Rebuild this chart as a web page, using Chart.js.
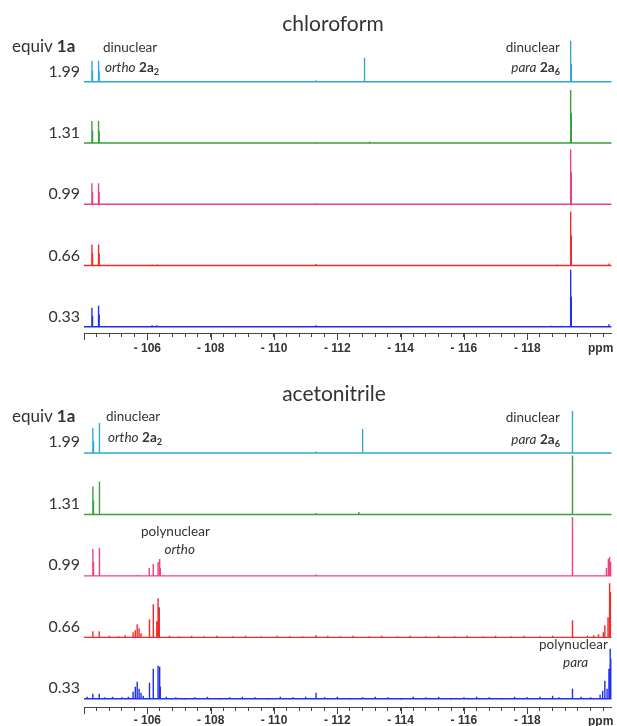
<!DOCTYPE html>
<html>
<head>
<meta charset="utf-8">
<script src="https://cdn.jsdelivr.net/npm/chart.js@4"></script>
<style>
    body { margin: 0; background: #fff; width: 617px; height: 726px; position: relative; overflow: hidden; font-family: Lato, 'Open Sans', sans-serif; color: #333; }
    canvas { position: absolute; left: 0; }
    .t { position: absolute; white-space: nowrap; line-height: 1; }
    .title { font-size: 21px; transform: translateX(-50%); }
    .eq { font-size: 17px; }
    .num { font-size: 16px; width: 80px; text-align: right; left: 0; }
    .lab { font-size: 13.5px; }
    .r { text-align: right; }
    .ppm { font-family: 'Liberation Sans', Arial, sans-serif; font-weight: bold; font-size: 12px; }
    sub { font-size: 68%; vertical-align: -0.3em; line-height: 0; }
</style>
</head>
<body>
<canvas id="chloroform" width="617" height="362" style="top:0"></canvas>
<canvas id="acetonitrile" width="617" height="361" style="top:365px"></canvas>

<!-- chloroform panel text -->
<div class="t title" style="left:333px;top:12px">chloroform</div>
<div class="t eq" style="left:12px;top:37px">equiv <b>1a</b></div>
<div class="t num" style="top:63px">1.99</div>
<div class="t num" style="top:124px">1.31</div>
<div class="t num" style="top:185px">0.99</div>
<div class="t num" style="top:247px">0.66</div>
<div class="t num" style="top:308px">0.33</div>
<div class="t lab" style="left:103px;top:41px">dinuclear</div>
<div class="t lab" style="left:105px;top:61px"><i>ortho</i> <b>2a<sub>2</sub></b></div>
<div class="t lab r" style="right:57px;top:41px">dinuclear</div>
<div class="t lab r" style="right:57px;top:61px"><i>para</i> <b>2a<sub>6</sub></b></div>
<div class="t ppm" style="left:588px;top:342px">ppm</div>

<!-- acetonitrile panel text -->
<div class="t title" style="left:334px;top:382px">acetonitrile</div>
<div class="t eq" style="left:12px;top:407px">equiv <b>1a</b></div>
<div class="t num" style="top:433px">1.99</div>
<div class="t num" style="top:495px">1.31</div>
<div class="t num" style="top:556px">0.99</div>
<div class="t num" style="top:618px">0.66</div>
<div class="t num" style="top:679px">0.33</div>
<div class="t lab" style="left:106px;top:410px">dinuclear</div>
<div class="t lab" style="left:108px;top:431px"><i>ortho</i> <b>2a<sub>2</sub></b></div>
<div class="t lab r" style="right:57px;top:411px">dinuclear</div>
<div class="t lab r" style="right:57px;top:433px"><i>para</i> <b>2a<sub>6</sub></b></div>
<div class="t lab" style="left:141px;top:525px">polynuclear</div>
<div class="t lab r" style="right:422px;top:543px"><i>ortho</i></div>
<div class="t lab" style="left:539px;top:638px">polynuclear</div>
<div class="t lab" style="left:563px;top:656px"><i>para</i></div>
<div class="t ppm" style="left:588px;top:715px">ppm</div>

<script>
// axis
const axisLeft = -104.0;
const axisRight = -120.66;
const minorStep = 0.4;
const majorTicks = [-104, -106, -108, -110, -112, -114, -116, -118];
const labelledTicks = [-106, -108, -110, -112, -114, -116, -118];

// trace order top -> bottom: 1.99, 1.31, 0.99, 0.66, 0.33 equiv
const traceColors = ['#2fa8d8', '#38a23a', '#f0407c', '#f22a2a', '#1f2ff0'];

// chloroform peaks [ppm, intensity]
const cdcl3_199 = [[-104.25, 21], [-104.27, 11], [-104.46, 21], [-104.48, 11], [-111.33, 1.5], [-112.86, 24], [-119.37, 41], [-119.39, 18]];
const cdcl3_131 = [[-104.25, 22], [-104.27, 12], [-104.46, 22], [-104.48, 12], [-111.33, 1], [-113.02, 1.5], [-119.37, 53], [-119.39, 30]];
const cdcl3_099 = [[-104.25, 21], [-104.27, 12], [-104.46, 21], [-104.48, 12], [-111.33, 1], [-119.37, 55], [-119.39, 32]];
const cdcl3_066 = [[-104.25, 21], [-104.27, 12], [-104.46, 21], [-104.48, 12], [-106.15, 1], [-106.32, 1], [-111.33, 1.5], [-118.95, 1], [-119.37, 54], [-119.39, 30], [-120.58, 2]];
const cdcl3_033 = [[-104.25, 19], [-104.27, 11], [-104.46, 21], [-104.48, 12], [-106.15, 1.5], [-106.3, 1.5], [-111.33, 1.5], [-118.75, 1], [-119.1, 1], [-119.37, 57], [-119.39, 30], [-120.58, 2.5]];

// acetonitrile peaks [ppm, intensity]
const mecn_199 = [[-104.28, 25], [-104.30, 12], [-104.48, 30], [-104.50, 14], [-111.33, 1.5], [-112.8, 24], [-119.42, 42], [-119.44, 18]];
const mecn_131 = [[-104.28, 28], [-104.30, 14], [-104.48, 33], [-104.50, 16], [-111.33, 1.5], [-112.68, 2.5], [-119.42, 59], [-119.44, 30]];
const mecn_099 = [[-104.28, 27], [-104.30, 14], [-104.48, 28], [-104.50, 14], [-105.71, 1], [-106.06, 8], [-106.18, 12], [-106.2, 6], [-106.34, 14], [-106.39, 17], [-106.41, 8],
    [-111.33, 1.5], [-119.42, 59], [-119.44, 30], [-120.5, 8], [-120.56, 17], [-120.6, 19], [-120.64, 14]];
const mecn_066 = [[-104.28, 6], [-104.48, 6], [-105.55, 5], [-105.62, 7], [-105.68, 13], [-105.74, 9], [-105.8, 4], [-106.06, 18], [-106.08, 8], [-106.18, 33], [-106.2, 15],
    [-106.3, 16], [-106.34, 39], [-106.37, 30], [-106.39, 12], [-111.33, 2], [-119.42, 17], [-119.44, 8], [-120.25, 3], [-120.4, 5], [-120.45, 12], [-120.55, 20], [-120.6, 54], [-120.63, 45]];
const mecn_066_noise = [[-104.8, 1.5], [-105.1, 1], [-105.3, 2], [-106.7, 1.5], [-107.0, 1], [-107.4, 1.5], [-107.8, 1], [-108.2, 1.5], [-108.7, 1], [-109.1, 1.5], [-109.6, 1],
    [-110.1, 1.5], [-110.5, 1], [-110.9, 1], [-111.7, 1.5], [-112.1, 1], [-112.5, 1.5], [-113.0, 1], [-113.4, 1.5], [-113.9, 1], [-114.3, 1.5], [-114.8, 1], [-115.2, 1.5],
    [-115.7, 1], [-116.1, 1.5], [-116.6, 1], [-117.0, 1.5], [-117.5, 1], [-117.9, 1.5], [-118.4, 1], [-118.8, 1.5], [-119.9, 1.5], [-120.1, 2]];
const mecn_033 = [[-104.28, 5], [-104.48, 5], [-105.55, 7], [-105.62, 12], [-105.68, 17], [-105.74, 10], [-105.8, 6], [-105.87, 3], [-106.06, 16], [-106.08, 8], [-106.18, 30],
    [-106.2, 14], [-106.34, 33], [-106.39, 32], [-106.41, 12], [-111.33, 6], [-118.8, 3], [-119.42, 10], [-119.44, 5], [-120.3, 4], [-120.38, 8], [-120.45, 18], [-120.52, 10],
    [-120.58, 30], [-120.62, 50], [-120.65, 40]];
const mecn_033_noise = [[-104.1, 2], [-104.65, 1.5], [-104.9, 2], [-105.2, 1.5], [-105.4, 2], [-106.6, 2], [-106.9, 1.5], [-107.2, -1], [-107.5, 1.5], [-107.9, 2], [-108.3, -1],
    [-108.6, 1.5], [-109.0, 2], [-109.4, 1.5], [-109.8, -1], [-110.2, 2], [-110.6, 1.5], [-111.0, 2], [-111.6, 1.5], [-112.0, 2], [-112.4, -1], [-112.8, 1.5], [-113.2, 2],
    [-113.6, 1.5], [-114.0, -1], [-114.4, 2], [-114.8, 1.5], [-115.2, 2], [-115.6, -1], [-116.0, 1.5], [-116.4, 2], [-116.8, 1.5], [-117.2, -1], [-117.6, 2], [-118.0, 1.5],
    [-118.4, 2], [-119.0, 1.5], [-119.7, 2], [-120.0, 1.5]];

const tickValues = [];
for (let v = axisLeft; v >= axisRight - 1e-9; v -= minorStep) {
    tickValues.push(Math.round(v * 10) / 10);
}

function stickSpectrum(peaks, base) {
    const sorted = peaks.slice().sort((a, b) => a[0] - b[0]);
    const pts = [{ x: axisRight - 0.2, y: base }];
    sorted.forEach(([ppm, h]) => {
        pts.push({ x: ppm, y: base }, { x: ppm, y: base + h }, { x: ppm, y: base });
    });
    pts.push({ x: axisLeft + 0.1, y: base });
    return pts;
}

const majorTickPlugin = {
    id: 'majorTicks',
    afterDraw(chart) {
        const { ctx, chartArea, scales: { x } } = chart;
        ctx.save();
        ctx.strokeStyle = '#444';
        ctx.lineWidth = 1;
        majorTicks.forEach(v => {
            const px = Math.round(x.getPixelForValue(v)) + 0.5;
            ctx.beginPath();
            ctx.moveTo(px, chartArea.bottom);
            ctx.lineTo(px, chartArea.bottom + 7);
            ctx.stroke();
        });
        ctx.restore();
    }
};

function makeChart(id, traces, opts) {
    const datasets = traces.map((peaks, i) => ({
        data: stickSpectrum(peaks, opts.base0 + (traces.length - 1 - i) * opts.step),
        borderColor: traceColors[i],
        borderWidth: 1.4,
        borderJoinStyle: 'bevel',
        pointRadius: 0,
        tension: 0,
        fill: false
    }));
    return new Chart(document.getElementById(id), {
        type: 'line',
        data: { datasets },
        options: {
            responsive: false,
            animation: false,
            devicePixelRatio: 1,
            layout: { padding: { left: 84, right: 5.5, top: 0, bottom: 0 } },
            plugins: { legend: { display: false }, tooltip: { enabled: false } },
            scales: {
                x: {
                    type: 'linear',
                    reverse: true,
                    min: axisRight,
                    max: axisLeft,
                    afterBuildTicks: s => { s.ticks = tickValues.map(v => ({ value: v })); },
                    afterFit: s => { s.height = opts.axisHeight; },
                    grid: { drawOnChartArea: false, drawTicks: true, tickLength: 4, tickColor: '#444', tickWidth: 1 },
                    border: { display: true, color: '#444', width: 1 },
                    ticks: {
                        autoSkip: false,
                        maxRotation: 0,
                        padding: opts.tickPad,
                        color: '#333',
                        font: { family: 'Liberation Sans', size: 12, weight: 'bold' },
                        callback: v => {
                            const r = Math.round(v * 10) / 10;
                            return labelledTicks.includes(r) ? '- ' + Math.abs(r) : '';
                        }
                    }
                },
                y: { display: false, min: 0, max: opts.yMax }
            }
        },
        plugins: [majorTickPlugin]
    });
}

document.addEventListener('DOMContentLoaded', function() {
    makeChart('chloroform', [cdcl3_199, cdcl3_131, cdcl3_099, cdcl3_066, cdcl3_033],
        { base0: 6.3, step: 61.25, yMax: 333, axisHeight: 29, tickPad: 4 });
    makeChart('acetonitrile', [mecn_199, mecn_131, mecn_099, mecn_066.concat(mecn_066_noise), mecn_033.concat(mecn_033_noise)],
        { base0: 8.2, step: 61.45, yMax: 342, axisHeight: 19, tickPad: 2 });
});
</script>
</body>
</html>
